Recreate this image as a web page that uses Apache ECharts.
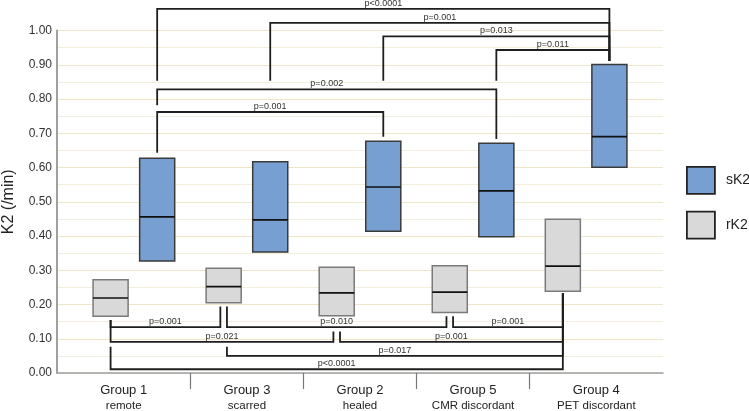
<!DOCTYPE html>
<html>
<head>
<meta charset="utf-8">
<script src="https://cdn.jsdelivr.net/npm/echarts@6/dist/echarts.min.js"></script>
<style>
html,body{margin:0;padding:0;background:#fff;}
#chart{width:749px;height:411px;}
</style>
</head>
<body>
<div id="chart"></div>
<script>
// ---- data ----
const categories = ['Group 1', 'Group 3', 'Group 2', 'Group 5', 'Group 4'];
const subLabels = ['remote', 'scarred', 'healed', 'CMR discordant', 'PET discordant'];

const sK2_q1 = [0.327, 0.353, 0.414, 0.398, 0.601];
const sK2_median = [0.456, 0.447, 0.543, 0.532, 0.690];
const sK2_q3 = [0.627, 0.617, 0.677, 0.671, 0.901];

const rK2_q1 = [0.166, 0.205, 0.167, 0.177, 0.239];
const rK2_median = [0.219, 0.252, 0.234, 0.236, 0.312];
const rK2_q3 = [0.272, 0.306, 0.309, 0.313, 0.449];

// brackets: [fromGroupIndex, toGroupIndex, lineLevel, fromLegEnd, toLegEnd]
const sK2_brackets = [
  [0, 4, 1.063, 0.853, 0.911],
  [1, 4, 1.022, 0.853, 0.911],
  [2, 4, 0.983, 0.853, 0.911],
  [3, 4, 0.943, 0.853, 0.911],
  [0, 3, 0.828, 0.782, 0.683],
  [0, 2, 0.762, 0.643, 0.690]
];
const sK2_pLabels = ['p<0.0001', 'p=0.001', 'p=0.013', 'p=0.011', 'p=0.002', 'p=0.001'];

const rK2_brackets = [
  [0, 1, 0.134, 0.155, 0.194],
  [1, 3, 0.134, 0.194, 0.166],
  [3, 4, 0.134, 0.166, 0.233],
  [0, 2, 0.091, 0.155, 0.121],
  [2, 4, 0.091, 0.121, 0.233],
  [1, 4, 0.050, 0.077, 0.233],
  [0, 4, 0.011, 0.077, 0.233]
];
const rK2_pLabels = ['p=0.001', 'p=0.010', 'p=0.001', 'p=0.021', 'p=0.001', 'p=0.017', 'p<0.0001'];

const yMin = 0, yMax = 1, yInterval = 0.1;

// ---- layout / style constants ----
const X_MIN = -0.68, X_MAX = 4.68;
const BOX_OFFSET = 0.206;   // fraction of category step
const BOX_WIDTH = 0.31;     // fraction of category step
const FONT = 'Liberation Sans, Arial, Helvetica, sans-serif';
const BLUE = '#789fd2', GRAY = '#d9d9d9';

const sepValues = categories.slice(1).map((c, i) => i + 0.5);
const labelValues = categories.map((c, i) =>
  i === 0 ? (X_MIN + 0.5) / 2 : (i === categories.length - 1 ? (X_MAX + categories.length - 1.5) / 2 : i));

function boxRender(offsetSign, fill, stroke) {
  return function (params, api) {
    const x = api.value(0), q1 = api.value(1), med = api.value(2), q3 = api.value(3);
    const unit = api.size([1, 0])[0];
    const cx = api.coord([x, med])[0] + offsetSign * BOX_OFFSET * unit;
    const w = BOX_WIDTH * unit;
    const yTop = api.coord([x, q3])[1], yBot = api.coord([x, q1])[1], yMed = api.coord([x, med])[1];
    return {
      type: 'group',
      children: [
        { type: 'rect', shape: { x: cx - w / 2, y: yTop, width: w, height: yBot - yTop },
          style: { fill: fill, stroke: stroke, lineWidth: 1.5 } },
        { type: 'line', shape: { x1: cx - w / 2, y1: yMed, x2: cx + w / 2, y2: yMed },
          style: { stroke: '#111', lineWidth: 1.7 } }
      ]
    };
  };
}

function bracketRender(list, labels, offsetSign, split) {
  return function (params, api) {
    const i = params.dataIndex;
    const from = api.value(0), to = api.value(1), level = api.value(2), fEnd = api.value(3), tEnd = api.value(4);
    const unit = api.size([1, 0])[0];
    const off = offsetSign * BOX_OFFSET * unit;
    // split legs when a group is both a left and right end of brackets
    const isRightSomewhere = g => list.some(b => b[1] === g);
    const isLeftSomewhere = g => list.some(b => b[0] === g);
    let x1 = api.coord([from, level])[0] + off;
    let x2 = api.coord([to, level])[0] + off;
    if (split) {
      if (isRightSomewhere(from)) x1 += split;
      if (isLeftSomewhere(to)) x2 -= split;
    }
    const yL = api.coord([from, level])[1];
    const y1 = api.coord([from, fEnd])[1];
    const y2 = api.coord([to, tEnd])[1];
    const st = { stroke: '#1e1e1e', lineWidth: 1.8, fill: null };
    return {
      type: 'group',
      children: [
        { type: 'polyline', shape: { points: [[x1, y1], [x1, yL], [x2, yL], [x2, y2]] }, style: st },
        { type: 'text', style: { text: labels[i], x: (x1 + x2) / 2, y: yL - 1, align: 'center', verticalAlign: 'bottom',
          fontSize: 9, fontFamily: FONT, fill: '#333' } }
      ]
    };
  };
}

const chart = echarts.init(document.getElementById('chart'), null, { renderer: 'canvas' });
chart.setOption({
  animation: false,
  backgroundColor: '#ffffff',
  textStyle: { fontFamily: FONT },
  grid: { left: 57, right: 86, top: 30.5, bottom: 38, containLabel: false, outerBoundsMode: 'none' },
  legend: {
    orient: 'vertical', left: 681, top: 161,
    itemWidth: 28, itemHeight: 27, itemGap: 16,
    selectedMode: false,
    textStyle: { fontSize: 14, color: '#222', fontFamily: FONT, padding: [0, 0, 0, 6] },
    data: [
      { name: 'sK2', icon: 'rect', itemStyle: { color: BLUE, borderColor: '#222', borderWidth: 1.8 } },
      { name: 'rK2', icon: 'rect', itemStyle: { color: GRAY, borderColor: '#222', borderWidth: 1.8 } }
    ]
  },
  xAxis: {
    type: 'value', min: X_MIN, max: X_MAX,
    axisLine: { show: true, onZero: false, lineStyle: { color: '#a0a0a0', width: 1.5 } },
    splitLine: { show: false },
    axisTick: { show: true, customValues: sepValues, length: 16, lineStyle: { color: '#777', width: 1.2 } },
    axisLabel: {
      show: true, customValues: labelValues, margin: 9,
      formatter: function (v) {
        let idx = 0, best = Infinity;
        labelValues.forEach((lv, k) => { if (Math.abs(lv - v) < best) { best = Math.abs(lv - v); idx = k; } });
        return '{a|' + categories[idx] + '}\n{b|' + subLabels[idx] + '}';
      },
      rich: {
        a: { fontSize: 13, color: '#222', fontFamily: FONT, lineHeight: 16 },
        b: { fontSize: 11.5, color: '#222', fontFamily: FONT, lineHeight: 15 }
      }
    }
  },
  yAxis: {
    type: 'value', min: yMin, max: yMax, interval: yInterval,
    name: 'K2 (/min)', nameLocation: 'middle', nameGap: 40,
    nameTextStyle: { fontSize: 16, color: '#222', fontFamily: FONT },
    axisLine: { show: true, onZero: false, lineStyle: { color: '#a0a0a0', width: 2 } },
    axisTick: { show: false },
    axisLabel: { fontSize: 12, color: '#333', margin: 5, formatter: v => v.toFixed(2) },
    splitLine: { show: true, lineStyle: { color: '#ede6c8', width: 1 } },
    minorTick: { show: false, splitNumber: 2 },
    minorSplitLine: { show: true, lineStyle: { color: '#f3efdc', width: 1 } }
  },
  series: [
    {
      name: 'sK2', type: 'custom', z: 3,
      itemStyle: { color: BLUE, borderColor: '#3a3a3a', borderWidth: 1.5 },
      renderItem: boxRender(1, BLUE, '#3a3a3a'),
      encode: { x: 0, y: [1, 2, 3] },
      data: categories.map((c, i) => [i, sK2_q1[i], sK2_median[i], sK2_q3[i]])
    },
    {
      name: 'rK2', type: 'custom', z: 3,
      itemStyle: { color: GRAY, borderColor: '#7a7a7a', borderWidth: 1.5 },
      renderItem: boxRender(-1, GRAY, '#7a7a7a'),
      encode: { x: 0, y: [1, 2, 3] },
      data: categories.map((c, i) => [i, rK2_q1[i], rK2_median[i], rK2_q3[i]])
    },
    {
      name: 'sK2 comparisons', type: 'custom', z: 4, clip: false, silent: true,
      renderItem: bracketRender(sK2_brackets, sK2_pLabels, 1, 0),
      encode: { x: 0, y: 2 },
      data: sK2_brackets
    },
    {
      name: 'rK2 comparisons', type: 'custom', z: 4, clip: false, silent: true,
      renderItem: bracketRender(rK2_brackets, rK2_pLabels, -1, 3.3),
      encode: { x: 0, y: 2 },
      data: rK2_brackets
    }
  ]
});
</script>
</body>
</html>
